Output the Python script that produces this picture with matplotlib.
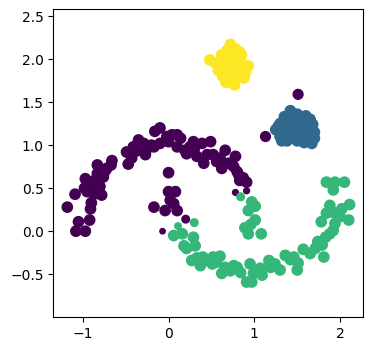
import numpy as np
import matplotlib.pyplot as plt

# cluster 0 - upper moon (purple)
moon0_x = [-1.18, -1.09, -1.08, -1.05, -0.97, -0.92, -0.91, -0.90, -0.98, -0.97,
           -0.87, -0.78, -0.87, -0.83, -0.83, -0.76, -0.72, -0.66, -0.67, -0.74,
           -0.93, -0.95, -0.49, -0.47, -0.43, -0.41, -0.35, -0.33, -0.27, -0.29,
           -0.25, -0.16, -0.10, -0.17, -0.10, -0.02, 0.00, 0.04, 0.10, 0.14,
           0.10, 0.19, 0.21, 0.29, 0.30, 0.39, 0.49, 0.33, 0.41, 0.45,
           0.52, 0.56, 0.66, 0.62, 0.70, 0.78, 0.76, 0.80, 0.83, 0.91,
           0.82, 0.87, 0.78, 0.91, -0.85, -0.80, -0.38, -0.20, 0.25, 0.60,
           0.00, 0.00, 0.08, 0.02, -0.17, -0.04, 0.10, 0.06, 0.20, -0.07,
           1.13, 1.51]
moon0_y = [0.28, 0.43, 0.00, 0.11, 0.00, 0.13, 0.26, 0.33, 0.50, 0.61,
           0.43, 0.42, 0.54, 0.77, 0.67, 0.63, 0.73, 0.82, 0.77, 0.70,
           0.57, 0.46, 0.92, 0.78, 0.85, 0.98, 1.06, 0.98, 0.89, 1.02,
           0.96, 1.16, 1.20, 0.98, 1.02, 1.10, 1.04, 1.12, 1.12, 1.08,
           0.98, 0.94, 0.90, 1.04, 0.96, 1.02, 1.04, 0.87, 0.79, 0.89,
           0.89, 0.81, 0.94, 0.73, 0.79, 0.87, 0.75, 0.69, 0.59, 0.57,
           0.65, 0.62, 0.45, 0.47, 0.60, 0.52, 0.93, 1.00, 0.98, 0.85,
           0.68, 0.46, 0.46, 0.36, 0.28, 0.24, 0.24, 0.32, 0.14, 0.00,
           1.10, 1.59]
moon0_s = [55] * 62 + [18, 18] + [55] * 14 + [30, 15, 50, 50]

# cluster 1 - blob (blue)
blob1_x = [1.42, 1.50, 1.35, 1.45, 1.30, 1.40, 1.55, 1.65, 1.68, 1.25,
           1.35, 1.48, 1.60, 1.70, 1.30, 1.42, 1.52, 1.62, 1.70, 1.38,
           1.50, 1.58, 1.67, 1.32, 1.45, 1.55, 1.28, 1.60]
blob1_y = [1.40, 1.36, 1.33, 1.30, 1.25, 1.25, 1.28, 1.30, 1.24, 1.18,
           1.18, 1.20, 1.20, 1.15, 1.10, 1.12, 1.10, 1.10, 1.08, 1.05,
           1.05, 1.03, 1.02, 1.05, 1.17, 1.15, 1.22, 1.34]
blob1_s = [55] * len(blob1_x)

# cluster 2 - lower moon (green)
moon2_x = [0.06, 0.16, 0.18, 0.21, 0.29, 0.31, 0.27, 0.33, 0.37, 0.45,
           0.51, 0.52, 0.60, 0.62, 0.66, 0.72, 0.80, 0.84, 0.95, 0.91,
           0.97, 0.99, 1.07, 1.09, 1.17, 1.19, 1.30, 1.36, 1.46, 1.50,
           1.51, 1.57, 1.65, 1.71, 1.81, 1.79, 1.83, 1.88, 1.92, 1.94,
           1.78, 1.84, 1.88, 1.92, 2.00, 2.10, 2.02, 2.11, 1.84, 1.94,
           2.05, 1.92, 0.97, 1.01, 0.93, 1.01, 0.89, 0.93, 0.96, 1.08,
           0.40, 0.56, 0.76, 1.24, 1.42, 1.74,
           0.84, 0.11, 0.30]
moon2_y = [-0.05, -0.03, -0.17, -0.20, -0.07, -0.17, -0.34, -0.31, -0.40, -0.34,
           -0.38, -0.30, -0.29, -0.49, -0.42, -0.46, -0.42, -0.48, -0.38, -0.59,
           -0.59, -0.49, -0.43, -0.51, -0.34, -0.42, -0.45, -0.28, -0.30, -0.45,
           -0.37, -0.21, -0.26, -0.20, -0.30, -0.16, -0.07, -0.03, 0.01, 0.09,
           0.11, 0.21, 0.30, 0.22, 0.17, 0.13, 0.26, 0.31, 0.57, 0.57,
           0.57, 0.48, 0.34, 0.29, 0.24, 0.13, 0.04, -0.03, 0.08, -0.03,
           -0.30, -0.36, -0.40, -0.38, -0.33, -0.12,
           0.40, 0.06, 0.10]
moon2_s = [55] * 66 + [30, 22, 30]

# cluster 3 - blob (yellow)
blob3_x = [0.48, 0.72, 0.68, 0.78, 0.62, 0.75, 0.85, 0.55, 0.65, 0.75,
           0.85, 0.93, 0.58, 0.68, 0.80, 0.90, 0.63, 0.72, 0.82, 0.88,
           0.67, 0.77, 0.70, 0.60, 0.80, 0.83]
blob3_y = [1.99, 2.17, 2.10, 2.12, 2.05, 2.05, 2.05, 1.95, 1.97, 1.97,
           1.95, 1.92, 1.87, 1.88, 1.88, 1.85, 1.80, 1.78, 1.80, 1.78,
           1.73, 1.70, 2.00, 1.92, 2.00, 2.08]
blob3_s = [55] * len(blob3_x)

xs = moon0_x + blob1_x + moon2_x + blob3_x
ys = moon0_y + blob1_y + moon2_y + blob3_y
sizes = moon0_s + blob1_s + moon2_s + blob3_s
labels = [0] * len(moon0_x) + [1] * len(blob1_x) + [2] * len(moon2_x) + [3] * len(blob3_x)

fig = plt.figure(figsize=(3.73, 3.51), dpi=100)
ax = fig.add_axes([0.143, 0.096, 0.831, 0.878])
ax.scatter(xs, ys, c=labels, s=sizes, cmap='viridis')
ax.set_xlim(-1.343, 2.27)
ax.set_ylim(-1.0, 2.58)
ax.set_xticks([-1, 0, 1, 2])
ax.set_yticks([-0.5, 0.0, 0.5, 1.0, 1.5, 2.0, 2.5])
fig.savefig('out.png')
